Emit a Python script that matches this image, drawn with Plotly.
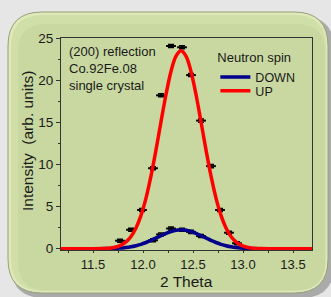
import plotly.graph_objects as go

# ---- data ----
up_pts_x = [11.77, 11.88, 11.99, 12.10, 12.18, 12.28, 12.39, 12.48, 12.58, 12.68, 12.77, 12.86, 12.94]
up_pts_y = [0.95, 2.25, 4.6, 9.55, 18.2, 24.05, 23.9, 20.6, 15.2, 9.8, 4.6, 1.9, 0.65]
down_pts_x = [12.10, 12.18, 12.28, 12.39, 12.48, 12.58]
down_pts_y = [1.0, 1.7, 2.4, 2.25, 2.0, 1.5]
pt_err = 0.18

up_fit_x = [11.18, 11.48, 11.58, 11.68, 11.73, 11.78, 11.83, 11.88, 11.93, 11.98, 12.03, 12.08, 12.13,
            12.18, 12.23, 12.28, 12.33, 12.38, 12.43, 12.48, 12.53, 12.58, 12.63, 12.68, 12.73,
            12.78, 12.83, 12.88, 12.93, 12.98, 13.03, 13.08, 13.18, 13.28, 13.69]
up_fit_y = [0.0, 0.0, 0.02, 0.10, 0.21, 0.43, 0.81, 1.46, 2.47, 3.96, 6.01, 8.64, 11.73,
            15.06, 18.30, 21.03, 22.86, 23.5, 22.86, 21.03, 18.30, 15.06, 11.73, 8.64, 6.01,
            3.96, 2.47, 1.46, 0.81, 0.43, 0.21, 0.10, 0.02, 0.0, 0.0]
down_fit_x = [11.18, 11.48, 11.58, 11.68, 11.73, 11.78, 11.83, 11.88, 11.93, 11.98, 12.03, 12.08, 12.13,
              12.18, 12.23, 12.28, 12.33, 12.38, 12.43, 12.48, 12.53, 12.58, 12.63, 12.68, 12.73,
              12.78, 12.83, 12.88, 12.93, 12.98, 13.08, 13.18, 13.28, 13.69]
down_fit_y = [0.0, 0.0, 0.01, 0.03, 0.05, 0.09, 0.14, 0.23, 0.36, 0.52, 0.74, 0.99, 1.28,
              1.56, 1.83, 2.05, 2.20, 2.25, 2.20, 2.05, 1.83, 1.56, 1.28, 0.99, 0.74,
              0.52, 0.36, 0.23, 0.14, 0.09, 0.03, 0.01, 0.0, 0.0]

x_ticks = [11.5, 12.0, 12.5, 13.0, 13.5]
x_tick_labels = ["11.5", "12.0", "12.5", "13.0", "13.5"]
y_ticks = [0, 5, 10, 15, 20, 25]
y_tick_labels = ["0", "5", "10", "15", "20", "25"]

FONT = "Liberation Sans, Arial, sans-serif"
TXT = "#1a1a1a"
W, H = 331, 297
L, R, T, B = 61, 19, 38, 47
PW, PH = W - L - R, H - T - B


def px(xp):
    return (xp - L) / PW


def py(yp):
    return (H - B - yp) / PH


def rounded_rect(x0, y0, x1, y1, r):
    pts = [
        f"M {px(x0 + r)},{py(y0)}",
        f"L {px(x1 - r)},{py(y0)}",
        f"Q {px(x1)},{py(y0)} {px(x1)},{py(y0 + r)}",
        f"L {px(x1)},{py(y1 - r)}",
        f"Q {px(x1)},{py(y1)} {px(x1 - r)},{py(y1)}",
        f"L {px(x0 + r)},{py(y1)}",
        f"Q {px(x0)},{py(y1)} {px(x0)},{py(y1 - r)}",
        f"L {px(x0)},{py(y0 + r)}",
        f"Q {px(x0)},{py(y0)} {px(x0 + r)},{py(y0)}",
        "Z",
    ]
    return " ".join(pts)


fig = go.Figure()

pt_marker = dict(symbol="line-ew", size=7, line=dict(width=2, color="black"), color="black")
pt_err_style = dict(type="constant", value=pt_err, width=3, thickness=1.5, color="black")

fig.add_trace(go.Scatter(x=up_pts_x, y=up_pts_y, mode="markers", showlegend=False,
                         marker=pt_marker, error_y=pt_err_style, hoverinfo="skip"))
fig.add_trace(go.Scatter(x=down_pts_x, y=down_pts_y, mode="markers", showlegend=False,
                         marker=pt_marker, error_y=pt_err_style, hoverinfo="skip"))
fig.add_trace(go.Scatter(x=down_fit_x, y=down_fit_y, mode="lines", name="DOWN", line_shape="spline",
                         line=dict(color="rgb(0,0,140)", width=3.5), legend="legend"))
fig.add_trace(go.Scatter(x=up_fit_x, y=up_fit_y, mode="lines", name="UP", line_shape="spline",
                         line=dict(color="rgb(255,0,0)", width=3.5), legend="legend2"))

shapes = [
    dict(type="path", xref="paper", yref="paper", layer="below",
         path=rounded_rect(11, 16, 334, 298, 33),
         fillcolor="rgba(120,120,120,0.55)", line=dict(width=0)),
    dict(type="path", xref="paper", yref="paper", layer="below",
         path=rounded_rect(8, 12, 328, 293, 34),
         fillcolor="rgb(222,233,185)", line=dict(color="rgb(150,160,120)", width=1)),
    dict(type="path", xref="paper", yref="paper", layer="below",
         path=rounded_rect(11, 15, 326, 291, 32),
         fillcolor="rgb(208,222,168)", line=dict(width=0)),
    dict(type="path", xref="paper", yref="paper", layer="below",
         path=rounded_rect(18, 24, 325, 290, 28),
         fillcolor="rgb(200,216,160)", line=dict(width=0)),
]

legend_common = dict(xanchor="left", yanchor="top", bgcolor="rgba(0,0,0,0)", borderwidth=0,
                     font=dict(size=12.5, family=FONT, color=TXT), itemwidth=30)

fig.update_layout(
    width=W, height=H,
    margin=dict(l=L, r=R, t=T, b=B, pad=0),
    paper_bgcolor="rgb(230,230,230)",
    plot_bgcolor="rgba(0,0,0,0)",
    font=dict(family=FONT, size=13, color=TXT),
    shapes=shapes,
    showlegend=True,
    legend=dict(x=0.615, y=0.965,
                title=dict(text="Neutron spin", font=dict(size=13, family=FONT, color=TXT)),
                **legend_common),
    legend2=dict(x=0.615, y=py(76), **legend_common),
    annotations=[
        dict(text="(200) reflection<br>Co.92Fe.08<br>single crystal",
             xref="paper", yref="paper", x=px(67), y=py(42), xanchor="left", yanchor="top",
             align="left", showarrow=False, font=dict(size=13, family=FONT, color=TXT)),
        dict(text="2 Theta", xref="paper", yref="paper", x=0.5, y=py(281),
             xanchor="center", yanchor="middle", showarrow=False,
             font=dict(size=15.5, family=FONT, color=TXT)),
        dict(text="Intensity  (arb. units)", xref="paper", yref="paper", x=px(27), y=py(141),
             xanchor="center", yanchor="middle", textangle=-90, showarrow=False,
             font=dict(size=15.5, family=FONT, color=TXT)),
    ],
    xaxis=dict(
        range=[11.18, 13.69], tickvals=x_ticks, ticktext=x_tick_labels,
        ticks="outside", ticklen=2, tickwidth=1, tickcolor="#333",
        minor=dict(dtick=0.25, tick0=11.25, ticks="outside", ticklen=2, tickcolor="#333"),
        showline=True, linecolor="#333", linewidth=1, mirror=True,
        showgrid=False, zeroline=False,
        tickfont=dict(size=13, family=FONT, color=TXT),
    ),
    yaxis=dict(
        range=[-0.15, 25], tickvals=y_ticks, ticktext=y_tick_labels,
        ticks="outside", ticklen=4, tickwidth=1, tickcolor="#333",
        minor=dict(dtick=2.5, tick0=0, ticks="outside", ticklen=2, tickcolor="#333"),
        showline=True, linecolor="#333", linewidth=1, mirror=True,
        showgrid=False, zeroline=False,
        tickfont=dict(size=13.5, family=FONT, color=TXT),
    ),
)

fig.write_html("out.html", config={"displayModeBar": False},
               post_script="document.body.style.margin='0px';document.body.style.overflow='hidden';")
